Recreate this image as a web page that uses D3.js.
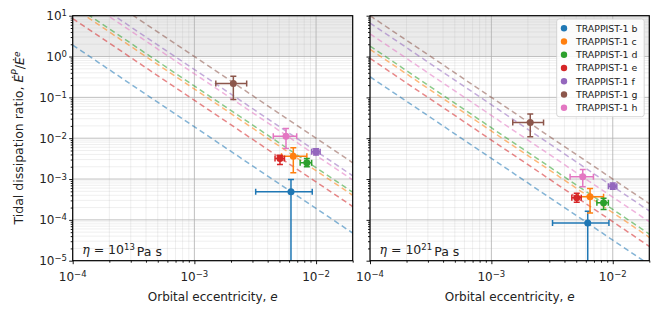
<!DOCTYPE html>
<html>
<head>
<meta charset="utf-8">
<script src="https://cdn.jsdelivr.net/npm/d3@7"></script>
<style>
body { margin: 0; background: #fff; }
text { font-family: "DejaVu Sans", sans-serif; fill: #222; }
</style>
</head>
<body>
<div id="chart"></div>
<script>

// planets and colours
var planets = ['TRAPPIST-1 b','TRAPPIST-1 c','TRAPPIST-1 d','TRAPPIST-1 e','TRAPPIST-1 f','TRAPPIST-1 g','TRAPPIST-1 h'];
var colors = ['#1f77b4','#ff7f0e','#2ca02c','#d62728','#9467bd','#8c564b','#e377c2'];

// eccentricity with error range
var ecc   = [0.00622, 0.0065, 0.0084, 0.00505, 0.0100, 0.00209, 0.00566];
var eccLo = [0.00319, 0.0052, 0.0074, 0.0046,  0.0092, 0.00150, 0.00445];
var eccHi = [0.0093,  0.0084, 0.0092, 0.0055,  0.0108, 0.00269, 0.00693];

// dissipation ratio, eta = 1e13 Pa s
var ratio13   = [4.85e-4, 3.63e-3, 2.49e-3, 3.2e-3,  4.64e-3, 0.22,  0.0112];
var ratio13Lo = [0,       1.42e-3, 2.0e-3,  2.28e-3, 3.9e-3,  0.089, 0.0056];
var ratio13Hi = [9.8e-4,  5.82e-3, 3.2e-3,  3.85e-3, 5.5e-3,  0.33,  0.0174];

// dissipation ratio, eta = 1e21 Pa s
var ratio21   = [8.4e-5,  3.67e-4, 2.63e-4, 3.47e-4, 6.7e-4,  0.0244, 1.13e-3];
var ratio21Lo = [0,       1.48e-4, 1.8e-4,  2.7e-4,  5.6e-4,  0.0108, 6.5e-4];
var ratio21Hi = [1.63e-4, 5.9e-4,  3.4e-4,  4.5e-4,  8.0e-4,  0.0389, 1.72e-3];

// dashed reference lines: value at e = 1e-4 and at e = 2e-2
var line13Start = [1.9,     16,     19,      8.5,     48,     100,    38];
var line13End   = [4.75e-5, 4.0e-4, 4.75e-4, 2.12e-4, 1.2e-3, 2.5e-3, 9.5e-4];
var line21Start = [0.32,    1.5,     1.8,    0.9,      6.6,     10,     3.6];
var line21End   = [8.0e-6,  3.75e-5, 4.5e-5, 2.25e-5,  1.65e-4, 2.5e-4, 9.0e-5];

var xTicks = [1e-4, 1e-3, 1e-2];
var xTickExp = ['\u22124', '\u22123', '\u22122'];
var yTicks = [1e-5, 1e-4, 1e-3, 1e-2, 1e-1, 1e0, 1e1];
var yTickExp = ['\u22125', '\u22124', '\u22123', '\u22122', '\u22121', '0', '1'];
var etaExp = ['13', '21'];

var width = 665, height = 314;
var plotTop = 15.7, plotBottom = 260.7;

var svg = d3.select('#chart').append('svg')
    .attr('width', width)
    .attr('height', height);

var y = d3.scaleLog().domain([1e-5, 10]).range([plotBottom, plotTop]);

function minors(lo, hi) {
    var out = [];
    for (var p = lo; p <= hi; p++) {
        for (var m = 2; m <= 9; m++) out.push(m * Math.pow(10, p));
    }
    return out;
}
var xMinor = minors(-4, -2).filter(d => d <= 2.0001e-2);
var yMinor = minors(-5, 0);

var panels = [
    {x0: 72.7, x1: 352.7, r: ratio13, lo: ratio13Lo, hi: ratio13Hi, ls: line13Start, le: line13End, eta: etaExp[0], ylabels: true},
    {x0: 370,  x1: 649.3, r: ratio21, lo: ratio21Lo, hi: ratio21Hi, ls: line21Start, le: line21End, eta: etaExp[1], ylabels: false}
];

panels.forEach(function(p, pi) {
    var x = d3.scaleLog().domain([1e-4, 2e-2]).range([p.x0, p.x1]);
    var g = svg.append('g');

    g.append('clipPath').attr('id', 'clip' + pi)
        .append('rect')
        .attr('x', p.x0).attr('y', plotTop)
        .attr('width', p.x1 - p.x0).attr('height', plotBottom - plotTop);

    // shaded region above ratio 1
    g.append('rect')
        .attr('x', p.x0).attr('y', y(10))
        .attr('width', p.x1 - p.x0).attr('height', y(1) - y(10))
        .attr('fill', '#ebebeb');

    // grid
    var grid = g.append('g').attr('clip-path', 'url(#clip' + pi + ')');
    grid.selectAll('.xmin').data(xMinor).enter().append('line')
        .attr('x1', d => x(d)).attr('x2', d => x(d))
        .attr('y1', plotTop).attr('y2', plotBottom)
        .attr('stroke', '#b0b0b0').attr('stroke-width', 0.6).attr('stroke-opacity', 0.35);
    grid.selectAll('.ymin').data(yMinor).enter().append('line')
        .attr('x1', p.x0).attr('x2', p.x1)
        .attr('y1', d => y(d)).attr('y2', d => y(d))
        .attr('stroke', '#b0b0b0').attr('stroke-width', 0.6).attr('stroke-opacity', 0.35);
    grid.selectAll('.xmaj').data(xTicks).enter().append('line')
        .attr('x1', d => x(d)).attr('x2', d => x(d))
        .attr('y1', plotTop).attr('y2', plotBottom)
        .attr('stroke', '#b0b0b0').attr('stroke-width', 1).attr('stroke-opacity', 0.8);
    grid.selectAll('.ymaj').data(yTicks).enter().append('line')
        .attr('x1', p.x0).attr('x2', p.x1)
        .attr('y1', d => y(d)).attr('y2', d => y(d))
        .attr('stroke', '#b0b0b0').attr('stroke-width', 1).attr('stroke-opacity', 0.8);

    // dashed lines
    var lines = g.append('g').attr('clip-path', 'url(#clip' + pi + ')');
    planets.forEach(function(name, i) {
        lines.append('line')
            .attr('x1', x(1e-4)).attr('y1', y(p.ls[i]))
            .attr('x2', x(2e-2)).attr('y2', y(p.le[i]))
            .attr('stroke', colors[i])
            .attr('stroke-width', 1.5)
            .attr('stroke-opacity', 0.55)
            .attr('stroke-dasharray', '5.5,3.5');
    });

    // error bars and points
    var pts = g.append('g').attr('clip-path', 'url(#clip' + pi + ')');
    planets.forEach(function(name, i) {
        var cx = x(ecc[i]), cy = y(p.r[i]);
        var ylo = y(Math.max(p.lo[i], 1e-7)), yhi = y(p.hi[i]);
        var xlo = x(eccLo[i]), xhi = x(eccHi[i]);
        var eg = pts.append('g').attr('stroke', colors[i]).attr('stroke-width', 1.5);
        eg.append('line').attr('x1', xlo).attr('x2', xhi).attr('y1', cy).attr('y2', cy);
        eg.append('line').attr('x1', cx).attr('x2', cx).attr('y1', ylo).attr('y2', yhi);
        eg.append('line').attr('x1', xlo).attr('x2', xlo).attr('y1', cy - 3).attr('y2', cy + 3);
        eg.append('line').attr('x1', xhi).attr('x2', xhi).attr('y1', cy - 3).attr('y2', cy + 3);
        eg.append('line').attr('x1', cx - 3).attr('x2', cx + 3).attr('y1', yhi).attr('y2', yhi);
        if (p.lo[i] > 0) {
            eg.append('line').attr('x1', cx - 3).attr('x2', cx + 3).attr('y1', ylo).attr('y2', ylo);
        }
        pts.append('circle')
            .attr('cx', cx).attr('cy', cy).attr('r', 3.5)
            .attr('fill', colors[i]);
    });

    // axes
    var xAxis = g.append('g').attr('transform', 'translate(0,' + plotBottom + ')');
    xAxis.call(d3.axisBottom(x).tickValues(xMinor).tickSize(2).tickFormat(''));
    xAxis.append('g').call(d3.axisBottom(x).tickValues(xTicks).tickSize(3.5).tickFormat(''));
    xAxis.selectAll('.domain').remove();
    xAxis.selectAll('line').attr('stroke', '#000').attr('stroke-width', 0.9);

    var yAxis = g.append('g').attr('transform', 'translate(' + p.x0 + ',0)');
    yAxis.call(d3.axisLeft(y).tickValues(yMinor).tickSize(2).tickFormat(''));
    yAxis.append('g').call(d3.axisLeft(y).tickValues(yTicks).tickSize(3.5).tickFormat(''));
    yAxis.selectAll('.domain').remove();
    yAxis.selectAll('line').attr('stroke', '#000').attr('stroke-width', 0.9);

    // x tick labels
    xTicks.forEach(function(t, k) {
        var tx = g.append('text')
            .attr('x', x(t)).attr('y', 281)
            .attr('text-anchor', 'middle')
            .style('font-size', '12px');
        tx.append('tspan').text('10');
        tx.append('tspan').attr('dy', '-0.45em').style('font-size', '8.5px').text(xTickExp[k]);
    });

    if (p.ylabels) {
        yTicks.forEach(function(t, k) {
            var ty = g.append('text')
                .attr('x', 67).attr('y', y(t) + 4.3)
                .attr('text-anchor', 'end')
                .style('font-size', '12px');
            ty.append('tspan').text('10');
            ty.append('tspan').attr('dy', '-0.45em').style('font-size', '8.5px').text(yTickExp[k]);
        });
    }

    // frame
    g.append('rect')
        .attr('x', p.x0).attr('y', plotTop)
        .attr('width', p.x1 - p.x0).attr('height', plotBottom - plotTop)
        .attr('fill', 'none').attr('stroke', '#000').attr('stroke-width', 1.2);

    // x label
    var xl = g.append('text')
        .attr('x', (p.x0 + p.x1) / 2).attr('y', 300.5)
        .attr('text-anchor', 'middle')
        .style('font-size', '12px');
    xl.append('tspan').text('Orbital eccentricity, ');
    xl.append('tspan').style('font-style', 'italic').text('e');

    // viscosity annotation
    var an = g.append('text')
        .attr('x', p.x0 + 9.5).attr('y', 254)
        .style('font-size', '12.5px');
    an.append('tspan').style('font-family', '"DejaVu Serif", serif').style('font-style', 'italic').text('\u03b7');
    an.append('tspan').text(' = 10');
    an.append('tspan').attr('dy', '-0.45em').style('font-size', '8.5px').text(p.eta);
    an.append('tspan').attr('dy', '0.45em').attr('dx', '2').text('Pa s');
});

// y label
var yl = svg.append('text')
    .attr('transform', 'translate(22.5,138) rotate(-90)')
    .attr('text-anchor', 'middle')
    .style('font-size', '12.5px');
yl.append('tspan').text('Tidal dissipation ratio, ');
yl.append('tspan').style('font-style', 'italic').text('\u0116');
yl.append('tspan').attr('dy', '-0.45em').style('font-size', '9px').style('font-style', 'italic').text('P');
yl.append('tspan').attr('dy', '0.45em').text('/');
yl.append('tspan').style('font-style', 'italic').text('\u0116');
yl.append('tspan').attr('dy', '-0.45em').style('font-size', '9px').style('font-style', 'italic').text('e');

// legend
var legend = svg.append('g');
legend.append('rect')
    .attr('x', 556.7).attr('y', 19)
    .attr('width', 87.5).attr('height', 97.7)
    .attr('rx', 2.5)
    .attr('fill', '#fff').attr('fill-opacity', 0.85)
    .attr('stroke', '#cccccc').attr('stroke-width', 0.8);
planets.forEach(function(name, i) {
    var ly = 28.3 + i * 13.23;
    legend.append('circle').attr('cx', 564).attr('cy', ly).attr('r', 3.2).attr('fill', colors[i]);
    legend.append('text')
        .attr('x', 576).attr('y', ly + 3.3)
        .style('font-size', '9.4px')
        .text(name);
});

</script>
</body>
</html>
